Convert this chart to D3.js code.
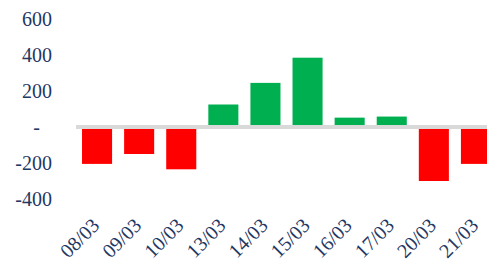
<!DOCTYPE html>
<html>
<head>
<meta charset="utf-8">
<script src="https://cdn.jsdelivr.net/npm/d3@7"></script>
<style>
  body { margin: 0; background: #fff; }
  svg text { font-family: 'Liberation Serif', 'Times New Roman', 'DejaVu Serif', serif; fill: #1f3864; font-size: 20px; }
</style>
</head>
<body>
<svg id="chart" width="487" height="266"></svg>
<script>
// values
const dates = ['08/03', '09/03', '10/03', '13/03', '14/03', '15/03', '16/03', '17/03', '20/03', '21/03'];
const values = [-205, -150, -235, 125, 245, 385, 52, 58, -300, -205];
const yTicks = [-400, -200, 0, 200, 400, 600];

const svg = d3.select('#chart');

const xScale = d3.scaleBand()
  .domain(dates)
  .range([76, 497])
  .paddingInner(0.286)
  .paddingOuter(0.143);

const yScale = d3.scaleLinear()
  .domain([-400, 600])
  .range([199, 19]);

// y axis, no line, just labels
const yAxis = svg.append('g')
  .attr('transform', 'translate(52,0)')
  .call(d3.axisLeft(yScale).tickValues(yTicks).tickSize(0).tickPadding(0)
    .tickFormat(d => d === 0 ? '-' : d));
yAxis.attr('font-family', null).attr('font-size', null);
yAxis.select('.domain').remove();
yAxis.selectAll('text')
  .attr('fill', '#1f3864')
  .attr('dx', d => d === 0 ? -12 : 0);

// bars
svg.selectAll('.bar')
  .data(dates)
  .enter()
  .append('rect')
  .attr('class', 'bar')
  .attr('x', d => xScale(d))
  .attr('width', xScale.bandwidth())
  .attr('y', (d, i) => yScale(Math.max(0, values[i])))
  .attr('height', (d, i) => Math.abs(yScale(values[i]) - yScale(0)))
  .attr('fill', (d, i) => values[i] < 0 ? '#ff0000' : '#00b050');

// zero line
svg.append('line')
  .attr('x1', 76)
  .attr('x2', 487)
  .attr('y1', yScale(0))
  .attr('y2', yScale(0))
  .attr('stroke', '#d9d9d9')
  .attr('stroke-width', 4);

// x labels, rotated
const xAxis = svg.append('g')
  .attr('transform', 'translate(0,219)')
  .call(d3.axisBottom(xScale).tickSize(0).tickPadding(0));
xAxis.attr('font-family', null).attr('font-size', null);
xAxis.select('.domain').remove();
xAxis.selectAll('text')
  .attr('fill', '#1f3864')
  .attr('text-anchor', 'end')
  .attr('dx', -3)
  .attr('dy', 8)
  .attr('transform', 'rotate(-45)');
</script>
</body>
</html>
